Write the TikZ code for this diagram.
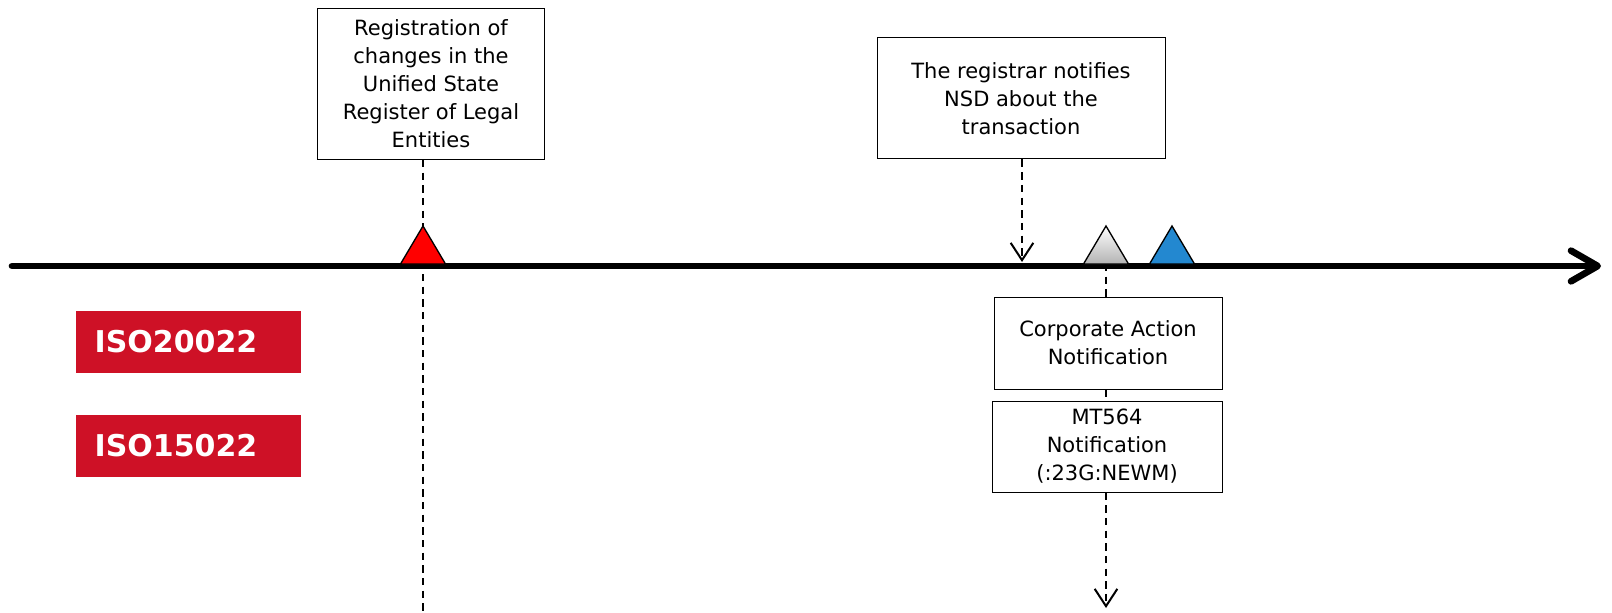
\documentclass[tikz,border=0pt]{standalone}
\usepackage{fontspec}
\setmainfont{DejaVu Sans}
\usetikzlibrary{arrows.meta}
\definecolor{isored}{RGB}{206,17,38}
\definecolor{evblue}{RGB}{35,136,208}

\tikzset{
  evbox/.style={draw, line width=0.75pt, fill=white, align=center, inner sep=0pt, font=\fontsize{15.75}{21}\selectfont},
  isobox/.style={fill=isored, text=white, align=left, inner xsep=14pt, inner ysep=0pt, text width=140.75pt, minimum height=46.5pt, font=\fontsize{22.5}{26}\selectfont\bfseries},
  guide/.style={line width=1.5pt, dash pattern=on 5.5pt off 4pt},
  guidetip/.style={-{Straight Barb[length=13pt,width=17pt,line width=1.5pt]}},
  evtri/.style={draw, line width=1pt, line join=miter}
}

\begin{document}
\begin{tikzpicture}[x=0.75pt,y=0.75pt,yscale=-1,xscale=1]
\useasboundingbox (0,0) rectangle (1612,613); %set diagram to the full frame

%Events on the time axis
\coordinate (ev1) at (423,264);
\coordinate (ev2) at (1022,262);
\coordinate (ev3) at (1106,264);
\coordinate (ev4) at (1172,264);
\coordinate (tstart) at (12,266);
\coordinate (tend) at (1601,266);
\coordinate (end1) at (423,613);
\coordinate (end3) at (1106,608);

% Text Node
\node [evbox, minimum width=170.25pt, minimum height=113.25pt] (reg) at (431,84) {Registration of\\changes in the\\Unified State\\Register of Legal\\Entities};
% Text Node
\node [evbox, minimum width=216pt, minimum height=90.75pt] (notify) at (1021,98.5) {The registrar notifies\\NSD about the\\transaction};
% Text Node
\node [evbox, minimum width=171pt, minimum height=69pt] (cano) at (1108,343) {Corporate Action\\Notification};
% Text Node
\node [evbox, minimum width=172.5pt, minimum height=68.25pt] (mtnote) at (1107,446.5) {MT564\\Notification\\(:23G:NEWM)};
% Text Node
\node [isobox] (isonew) at (188.5,342) {ISO20022};
% Text Node
\node [isobox] (isoold) at (188.5,446) {ISO15022};

%Dashed guides
\draw [guide] (reg.south -| ev1) -- (end1);
\draw [guide, guidetip] (notify.south -| ev2) -- (ev2);
\draw [guide] (ev3) -- (cano.north -| ev3);
\draw [guide] (cano.south -| ev3) -- (mtnote.north -| ev3);
\draw [guide, guidetip] (mtnote.south -| ev3) -- (end3);

%Time axis
\draw [line width=5pt, line cap=round, -{Straight Barb[length=20pt,width=23pt,line cap=round,round]}] (tstart) -- (tend);

%Shape: Triangles
\draw [evtri, fill=red] (ev1) ++(-22.5,0) -- ++(22.5,-38) -- ++(22.5,38) -- cycle;
\draw [evtri, top color=white, bottom color=black!30] (ev3) ++(-22.5,0) -- ++(22.5,-38) -- ++(22.5,38) -- cycle;
\draw [evtri, fill=evblue] (ev4) ++(-22.5,0) -- ++(22.5,-38) -- ++(22.5,38) -- cycle;

\end{tikzpicture}
\end{document}
